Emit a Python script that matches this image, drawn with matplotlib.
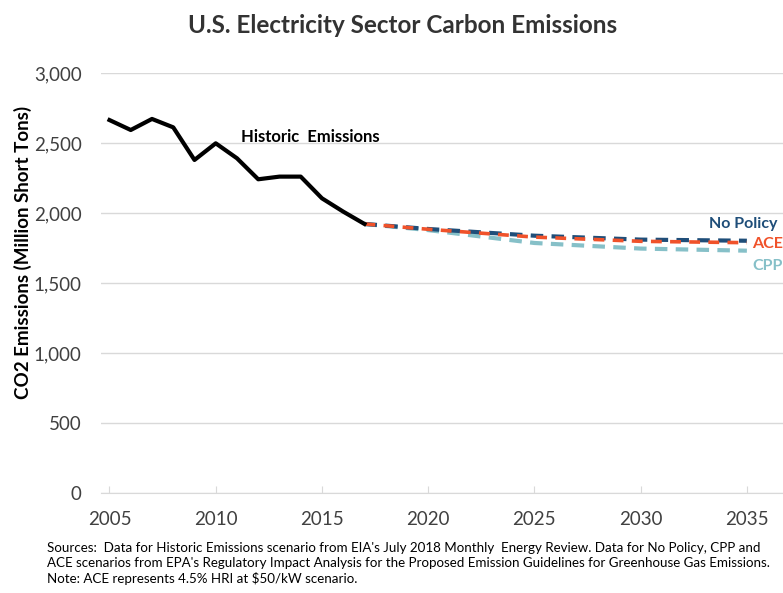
import numpy as np
import matplotlib
matplotlib.use("Agg")
import matplotlib.pyplot as plt

plt.rcParams['font.family'] = ['Lato', 'DejaVu Sans']

# historic emissions, million short tons
hist_years = [2005, 2006, 2007, 2008, 2009, 2010, 2011, 2012, 2013, 2014, 2015, 2016, 2017]
hist_vals = [2666, 2595, 2674, 2614, 2381, 2500, 2393, 2243, 2262, 2262, 2107, 2012, 1924]

# projections
proj_years = [2017, 2020, 2025, 2030, 2035]
no_policy = [1924, 1888, 1840, 1812, 1804]
ace = [1924, 1886, 1830, 1800, 1790]
cpp = [1924, 1880, 1788, 1748, 1733]

c_np = '#1F4E79'
c_ace = '#F0522A'
c_cpp = '#86C0C8'

fig = plt.figure(figsize=(7.83, 5.93), dpi=100)
ax = fig.add_axes([101 / 783, 99.7 / 593, 682 / 783, 420 / 593])

ax.plot(proj_years, no_policy, color=c_np, lw=3, ls=(0, (3, 2)), zorder=3)
ax.plot(proj_years, cpp, color=c_cpp, lw=3, ls=(0, (3, 2)), zorder=2)
ax.plot(proj_years, ace, color=c_ace, lw=2.6, ls=(0, (3, 2.3)), zorder=4)
ax.plot(hist_years, hist_vals, color='black', lw=3, zorder=5)

ax.set_xlim(2004.6, 2036.7)
ax.set_ylim(0, 3000)
ax.set_xticks(range(2005, 2036, 5))
ax.set_yticks(range(0, 3001, 500))
ax.set_yticklabels([f"{v:,}" for v in range(0, 3001, 500)])
ax.grid(axis='y', color='#D9D9D9', lw=1)
ax.set_axisbelow(True)
for s in ['top', 'right', 'left']:
    ax.spines[s].set_visible(False)
ax.spines['bottom'].set_color('#D9D9D9')
ax.tick_params(axis='y', length=0, labelsize=13.5, labelcolor='#404040', pad=14)
ax.tick_params(axis='x', direction='in', length=5, color='#D9D9D9', labelsize=13.5,
               labelcolor='#404040', pad=13)

fig.text(23 / 783, 1 - 252 / 593, "CO2 Emissions (Million Short Tons)", fontsize=13.5,
         fontweight='bold', color='black', rotation=90, ha='center', va='center')

ax.text(2011.2, 2510, "Historic  Emissions", fontsize=12, fontweight='bold', color='black')
ax.text(2033.2, 1925, "No Policy", fontsize=11.5, fontweight='bold', color=c_np,
        va='center', clip_on=False)
ax.text(2035.25, 1780, "ACE", fontsize=11.5, fontweight='bold', color=c_ace, va='center')
ax.text(2035.25, 1620, "CPP", fontsize=11.5, fontweight='bold', color=c_cpp, va='center')

fig.text(0.514, 0.957, "U.S. Electricity Sector Carbon Emissions", fontsize=17.5,
         fontweight='bold', color='#333333', ha='center', va='center')

notes = ("Sources:  Data for Historic Emissions scenario from EIA's July 2018 Monthly  Energy Review. Data for No Policy, CPP and\n"
         "ACE scenarios from EPA's Regulatory Impact Analysis for the Proposed Emission Guidelines for Greenhouse Gas Emissions.\n"
         "Note: ACE represents 4.5% HRI at $50/kW scenario.")
fig.text(47 / 783, 1 - 542 / 593, notes, fontsize=9.6, color='black', va='top', linespacing=1.3)

fig.savefig("out.png", dpi=100)
